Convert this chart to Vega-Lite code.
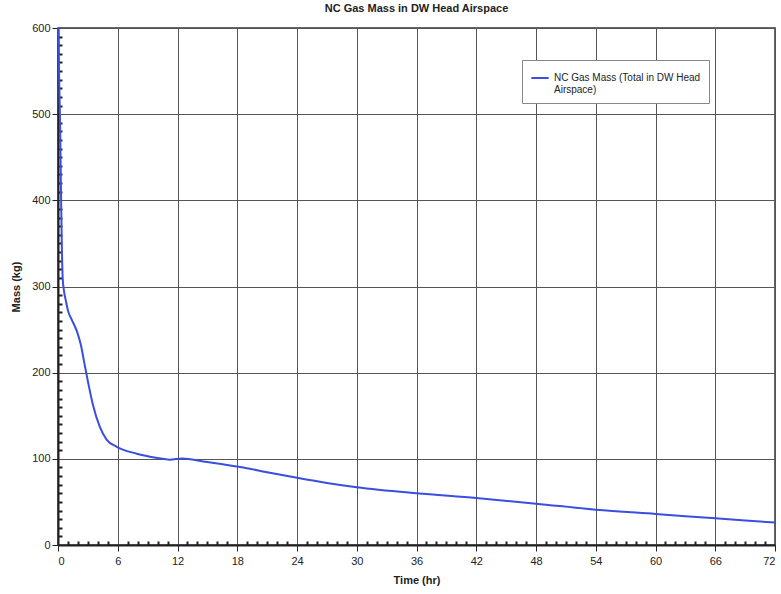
{
  "$schema": "https://vega.github.io/schema/vega-lite/v6.json",
  "width": 717,
  "height": 517,
  "autosize": {"type": "none"},
  "padding": {"left": 58, "top": 28, "right": 6, "bottom": 49},
  "background": "white",
  "title": {"text": "NC Gas Mass in DW Head Airspace", "font": "Liberation Sans", "fontSize": 11, "fontWeight": "bold", "color": "#222", "offset": 8},
  "config": {
    "view": {"stroke": "#333", "strokeWidth": 1.5},
    "axis": {"labelFont": "Liberation Sans", "titleFont": "Liberation Sans", "labelFontSize": 11, "titleFontSize": 11, "labelColor": "#222", "titleColor": "#222", "domainColor": "#222", "domainWidth": 2, "tickColor": "#222", "gridColor": "#555", "gridWidth": 1, "gridOpacity": 1}
  },
  "data": {"values": [
    {"t": 0.02, "m": 600, "s": "NC Gas Mass (Total in DW Head Airspace)"},
    {"t": 0.12, "m": 540, "s": "NC Gas Mass (Total in DW Head Airspace)"},
    {"t": 0.22, "m": 480, "s": "NC Gas Mass (Total in DW Head Airspace)"},
    {"t": 0.3, "m": 410, "s": "NC Gas Mass (Total in DW Head Airspace)"},
    {"t": 0.38, "m": 350, "s": "NC Gas Mass (Total in DW Head Airspace)"},
    {"t": 0.47, "m": 310, "s": "NC Gas Mass (Total in DW Head Airspace)"},
    {"t": 0.6, "m": 295, "s": "NC Gas Mass (Total in DW Head Airspace)"},
    {"t": 0.8, "m": 283, "s": "NC Gas Mass (Total in DW Head Airspace)"},
    {"t": 1.0, "m": 272, "s": "NC Gas Mass (Total in DW Head Airspace)"},
    {"t": 1.4, "m": 261, "s": "NC Gas Mass (Total in DW Head Airspace)"},
    {"t": 1.9, "m": 248, "s": "NC Gas Mass (Total in DW Head Airspace)"},
    {"t": 2.3, "m": 232, "s": "NC Gas Mass (Total in DW Head Airspace)"},
    {"t": 2.6, "m": 214, "s": "NC Gas Mass (Total in DW Head Airspace)"},
    {"t": 3.0, "m": 190, "s": "NC Gas Mass (Total in DW Head Airspace)"},
    {"t": 3.5, "m": 163, "s": "NC Gas Mass (Total in DW Head Airspace)"},
    {"t": 4.2, "m": 137, "s": "NC Gas Mass (Total in DW Head Airspace)"},
    {"t": 4.9, "m": 122, "s": "NC Gas Mass (Total in DW Head Airspace)"},
    {"t": 5.9, "m": 114, "s": "NC Gas Mass (Total in DW Head Airspace)"},
    {"t": 7.9, "m": 106, "s": "NC Gas Mass (Total in DW Head Airspace)"},
    {"t": 10.0, "m": 101, "s": "NC Gas Mass (Total in DW Head Airspace)"},
    {"t": 11.2, "m": 99, "s": "NC Gas Mass (Total in DW Head Airspace)"},
    {"t": 12.5, "m": 100.5, "s": "NC Gas Mass (Total in DW Head Airspace)"},
    {"t": 14.6, "m": 97, "s": "NC Gas Mass (Total in DW Head Airspace)"},
    {"t": 18.3, "m": 90.5, "s": "NC Gas Mass (Total in DW Head Airspace)"},
    {"t": 21, "m": 84.5, "s": "NC Gas Mass (Total in DW Head Airspace)"},
    {"t": 24, "m": 78, "s": "NC Gas Mass (Total in DW Head Airspace)"},
    {"t": 27, "m": 72, "s": "NC Gas Mass (Total in DW Head Airspace)"},
    {"t": 30, "m": 67, "s": "NC Gas Mass (Total in DW Head Airspace)"},
    {"t": 36, "m": 60, "s": "NC Gas Mass (Total in DW Head Airspace)"},
    {"t": 42, "m": 54.5, "s": "NC Gas Mass (Total in DW Head Airspace)"},
    {"t": 48, "m": 48, "s": "NC Gas Mass (Total in DW Head Airspace)"},
    {"t": 54, "m": 41, "s": "NC Gas Mass (Total in DW Head Airspace)"},
    {"t": 60, "m": 36, "s": "NC Gas Mass (Total in DW Head Airspace)"},
    {"t": 66, "m": 31, "s": "NC Gas Mass (Total in DW Head Airspace)"},
    {"t": 72, "m": 26, "s": "NC Gas Mass (Total in DW Head Airspace)"}
  ]},
  "layer": [
    {
      "mark": {"type": "line", "color": "#3a4ee0", "strokeWidth": 2, "interpolate": "monotone"},
      "encoding": {
        "x": {"field": "t", "type": "quantitative", "scale": {"domain": [0, 72], "nice": false},
          "axis": {"values": [0, 6, 12, 18, 24, 30, 36, 42, 48, 54, 60, 66, 72], "title": "Time (hr)", "titlePadding": 8, "tickSize": 6, "labelPadding": 4}},
        "y": {"field": "m", "type": "quantitative", "scale": {"domain": [0, 600], "nice": false},
          "axis": {"values": [0, 100, 200, 300, 400, 500, 600], "title": "Mass (kg)", "titlePadding": 10, "tickSize": 6}},
        "color": {"field": "s", "type": "nominal", "scale": {"range": ["#3a4ee0"]},
          "legend": {"title": null, "orient": "none", "legendX": 464, "legendY": 32, "symbolType": "stroke", "symbolStrokeWidth": 2, "symbolSize": 300, "labelFont": "Liberation Sans", "labelFontSize": 10, "labelColor": "#222", "labelLimit": 300, "labelExpr": "['NC Gas Mass (Total in DW Head', 'Airspace)']", "fillColor": "white", "strokeColor": "#888", "padding": 8, "symbolOffset": 0}}
      }
    },
    {
      "mark": {"type": "line", "opacity": 0},
      "encoding": {
        "x": {"field": "t", "type": "quantitative",
          "axis": {"orient": "bottom", "values": [1,2,3,4,5,7,8,9,10,11,13,14,15,16,17,19,20,21,22,23,25,26,27,28,29,31,32,33,34,35,37,38,39,40,41,43,44,45,46,47,49,50,51,52,53,55,56,57,58,59,61,62,63,64,65,67,68,69,70,71], "labels": false, "grid": false, "domain": false, "tickSize": -4, "tickWidth": 2, "title": null}},
        "y": {"field": "m", "type": "quantitative",
          "axis": {"orient": "left", "values": [10,20,30,40,50,60,70,80,90,110,120,130,140,150,160,170,180,190,210,220,230,240,250,260,270,280,290,310,320,330,340,350,360,370,380,390,410,420,430,440,450,460,470,480,490,510,520,530,540,550,560,570,580,590], "labels": false, "grid": false, "domain": false, "tickSize": -4, "tickWidth": 2, "title": null}}
      }
    }
  ],
  "resolve": {"axis": {"x": "independent", "y": "independent"}}
}
